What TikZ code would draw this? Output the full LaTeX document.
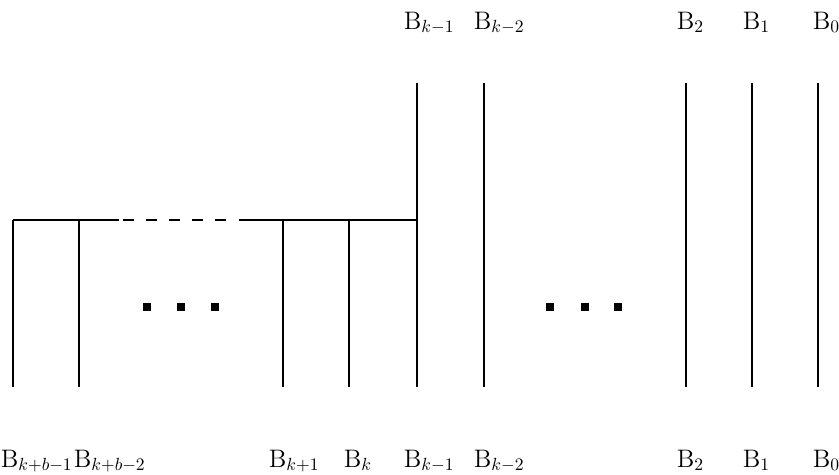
\documentclass[tikz,border=0pt]{standalone}
\usetikzlibrary{positioning}

\begin{document}
\begin{tikzpicture}[x=0.02cm, y=-0.02cm, line width=1pt,
    lbl/.style={anchor=base west, inner sep=0pt, font=\Large}]

  \useasboundingbox (0,0) rectangle (839,474);

  \def\topy{83}
  \def\midy{220}
  \def\boty{387}
  \def\dotsize{3.6}

  \foreach \n/\x in {a/13, b/79, c/283, d/349} {
    \coordinate (\n-top) at (\x, \midy);
    \coordinate (\n-bot) at (\x, \boty);
    \draw (\n-top) -- (\n-bot);
  }
  \foreach \n/\x in {e/417, f/484, g/686, h/752, i/818} {
    \coordinate (\n-top) at (\x, \topy);
    \coordinate (\n-bot) at (\x, \boty);
    \draw (\n-top) -- (\n-bot);
  }

  \coordinate (e-mid) at (417, \midy);
  \coordinate (solid-end) at (119, \midy);
  \coordinate (dash-start) at (123, \midy);
  \coordinate (dash-end) at (233, \midy);
  \coordinate (solid-start) at (239, \midy);
  \draw (a-top) -- (solid-end);
  \draw[dash pattern=on 6.2pt off 6.9pt] (dash-start) -- (dash-end);
  \draw (solid-start) -- (e-mid);

  \foreach \x in {147, 181, 215, 550, 585, 618} {
    \filldraw (\x-\dotsize, 307-\dotsize) rectangle (\x+\dotsize, 307+\dotsize);
  }

  \node[lbl] (t1) at (403, 29) {$\mathrm{B}_{k-1}$};
  \node[lbl] (t2) at (473, 29) {$\mathrm{B}_{k-2}$};
  \node[lbl] (t3) at (676, 29) {$\mathrm{B}_{2}$};
  \node[lbl] (t4) at (742, 29) {$\mathrm{B}_{1}$};
  \node[lbl] (t5) at (812, 29) {$\mathrm{B}_{0}$};

  \node[lbl] (b1) at (0, 467) {$\mathrm{B}_{k+b-1}$};
  \node[lbl] (b2) at (73, 467) {$\mathrm{B}_{k+b-2}$};
  \node[lbl] (b3) at (268, 467) {$\mathrm{B}_{k+1}$};
  \node[lbl] (b4) at (343, 467) {$\mathrm{B}_{k}$};
  \node[lbl] (b5) at (403, 467) {$\mathrm{B}_{k-1}$};
  \node[lbl] (b6) at (473, 467) {$\mathrm{B}_{k-2}$};
  \node[lbl] (b7) at (676, 467) {$\mathrm{B}_{2}$};
  \node[lbl] (b8) at (742, 467) {$\mathrm{B}_{1}$};
  \node[lbl] (b9) at (812, 467) {$\mathrm{B}_{0}$};

\end{tikzpicture}
\end{document}
